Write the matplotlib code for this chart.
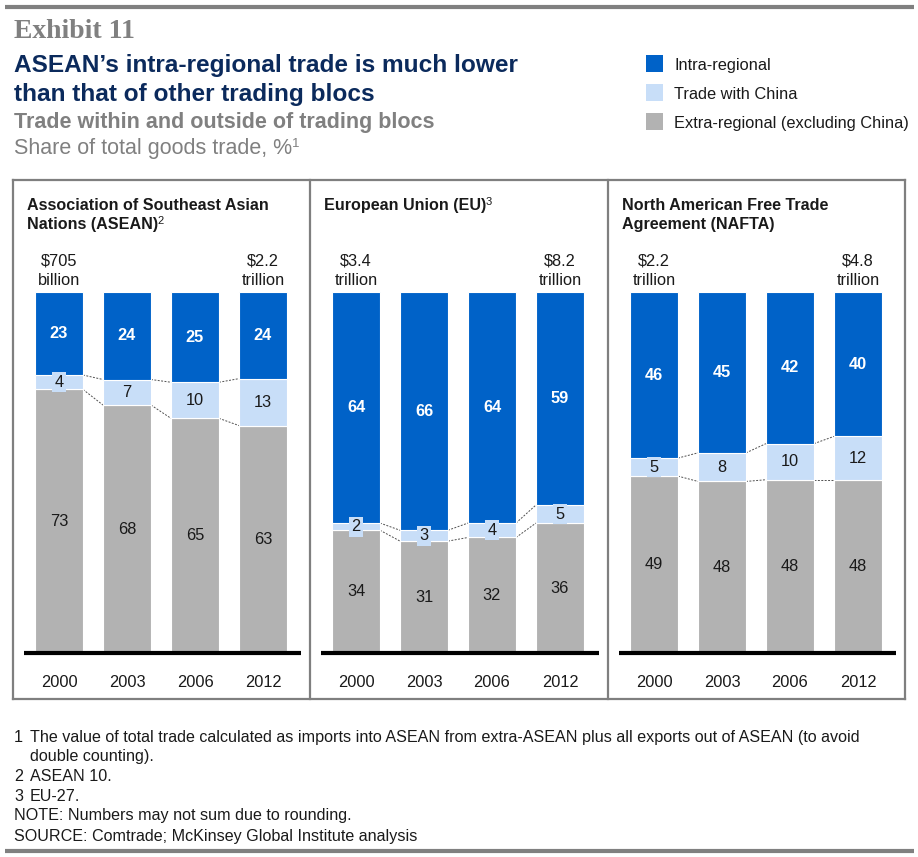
import matplotlib
matplotlib.use('Agg')
import matplotlib.pyplot as plt
from matplotlib.lines import Line2D
from matplotlib.patches import Rectangle
from matplotlib.text import Annotation

# ---------------- data ----------------
years = ['2000', '2003', '2006', '2012']

asean_intra = [23, 24, 25, 24]
asean_china = [4, 7, 10, 13]
asean_extra = [73, 68, 65, 63]

eu_intra = [64, 66, 64, 59]
eu_china = [2, 3, 4, 5]
eu_extra = [34, 31, 32, 36]

nafta_intra = [46, 45, 42, 40]
nafta_china = [5, 8, 10, 12]
nafta_extra = [49, 48, 48, 48]

# (text, superscript) per line
panel_titles = [
    [('Association of Southeast Asian', ''), ('Nations (ASEAN)', '2')],
    [('European Union (EU)', '3')],
    [('North American Free Trade', ''), ('Agreement (NAFTA)', '')],
]
total_first = [['$705', 'billion'], ['$3.4', 'trillion'], ['$2.2', 'trillion']]
total_last = [['$2.2', 'trillion'], ['$8.2', 'trillion'], ['$4.8', 'trillion']]

legend_labels = ['Intra-regional', 'Trade with China', 'Extra-regional (excluding China)']

footnotes = [
    ('1', 'The value of total trade calculated as imports into ASEAN from extra-ASEAN plus all exports out of ASEAN (to avoid'),
    ('', 'double counting).'),
    ('2', 'ASEAN 10.'),
    ('3', 'EU-27.'),
]
note_text = 'NOTE: Numbers may not sum due to rounding.'
source_text = 'SOURCE: Comtrade; McKinsey Global Institute analysis'

# ---------------- style ----------------
C_INTRA = '#0062C8'
C_CHINA = '#C8DEF8'
C_EXTRA = '#B2B2B2'
C_BOX = '#7F7F7F'
C_TXT = '#1A1A1A'
C_NAVY = '#0B2A5C'
C_GREY = '#808080'

plt.rcParams['font.family'] = ['Liberation Sans', 'DejaVu Sans']

W, H, DPI = 918, 857, 100
fig = plt.figure(figsize=(W / DPI, H / DPI), dpi=DPI)
fig.patch.set_facecolor('white')


def fx(x):
    return x / W


def fy(y):
    return 1 - y / H


def ftext(x, y, s, **kw):
    kw.setdefault('va', 'baseline')
    kw.setdefault('ha', 'left')
    return fig.text(fx(x), fy(y), s, **kw)


def sup(t, s, size, color, dx=-0.3, dy=0.8):
    a = Annotation(s, xy=(1, 1), xycoords=t, xytext=(dx, dy), textcoords='offset points',
                   ha='left', va='top', fontsize=size, color=color)
    fig.add_artist(a)


def fline(x0, y0, x1, y1, **kw):
    fig.add_artist(Line2D([fx(x0), fx(x1)], [fy(y0), fy(y1)], transform=fig.transFigure, **kw))


# top / bottom rules
fline(5, 7, 914, 7, color=C_GREY, lw=3, solid_capstyle='butt')
fline(5, 851, 914, 851, color=C_GREY, lw=3, solid_capstyle='butt')

# headings
ftext(14, 38, 'Exhibit 11', family='Liberation Serif', fontweight='bold', fontsize=20, color=C_GREY)
ftext(14, 72, 'ASEAN’s intra-regional trade is much lower', fontweight='bold', fontsize=17.6, color=C_NAVY)
ftext(14, 101, 'than that of other trading blocs', fontweight='bold', fontsize=17.6, color=C_NAVY)
ftext(14, 128, 'Trade within and outside of trading blocs', fontweight='bold', fontsize=15.5, color=C_GREY)
t_share = ftext(14, 154, 'Share of total goods trade, %', fontsize=15.5, color=C_GREY)
sup(t_share, '1', 9.5, C_GREY, dx=-0.3, dy=0.3)

# legend
for lab, col, ytop, base in zip(legend_labels, [C_INTRA, C_CHINA, C_EXTRA], [55, 84, 113], [70, 99, 128]):
    fig.add_artist(Rectangle((fx(646), fy(ytop + 17)), 17 / W, 17 / H, transform=fig.transFigure,
                             facecolor=col, edgecolor='none'))
    ftext(674, base, lab, fontsize=11.8, color=C_TXT)

# panel boxes
panel_lefts = [13, 310, 608]
panel_rights = [310, 608, 905]
BOX_TOP, BOX_BOT = 180, 699
fline(13, BOX_TOP, 905, BOX_TOP, color=C_BOX, lw=1.6)
fline(13, BOX_BOT, 905, BOX_BOT, color=C_BOX, lw=1.6)
for xv in [13, 310, 608, 905]:
    fline(xv, BOX_TOP, xv, BOX_BOT, color=C_BOX, lw=1.6)

BAR_TOP, BAR_BOT = 292, 653
SPACING = 68.0
BAR_W = 48.0 / SPACING
UNIT = (BAR_BOT - BAR_TOP) / 100.0

data = [
    (asean_intra, asean_china, asean_extra),
    (eu_intra, eu_china, eu_extra),
    (nafta_intra, nafta_china, nafta_extra),
]

for p in range(3):
    L, R = panel_lefts[p], panel_rights[p]
    axl, axr = L + 11, R - 9
    axw = axr - axl
    ax = fig.add_axes([fx(axl), fy(BAR_BOT), axw / W, (BAR_BOT - BAR_TOP) / H])
    ax.set_xlim(-35 / SPACING, (axw - 35) / SPACING)
    ax.set_ylim(0, 100)
    ax.axis('off')

    intra, china, extra = data[p]
    tot = [a + b + c for a, b, c in zip(intra, china, extra)]
    ext_n = [e / t * 100 for e, t in zip(extra, tot)]
    chi_n = [c / t * 100 for c, t in zip(china, tot)]
    int_n = [i / t * 100 for i, t in zip(intra, tot)]
    xs = list(range(len(years)))

    ax.bar(xs, ext_n, width=BAR_W, color=C_EXTRA, edgecolor='white', linewidth=0.8, zorder=2)
    ax.bar(xs, chi_n, width=BAR_W, bottom=ext_n, color=C_CHINA, edgecolor='white', linewidth=0.8, zorder=2)
    b2 = [e + c for e, c in zip(ext_n, chi_n)]
    ax.bar(xs, int_n, width=BAR_W, bottom=b2, color=C_INTRA, edgecolor='white', linewidth=0.8, zorder=2)

    # connectors
    for i in range(len(xs) - 1):
        for lev in (ext_n, b2):
            ax.plot([xs[i] + BAR_W / 2, xs[i + 1] - BAR_W / 2], [lev[i], lev[i + 1]],
                    color='#505050', lw=0.7, linestyle=(0, (2, 1.5)), zorder=1, clip_on=False)

    # labels
    for i in xs:
        ax.text(i, ext_n[i] / 2, str(extra[i]), ha='center', va='center', fontsize=11.8, color=C_TXT, zorder=4)
        ax.text(i, ext_n[i] + chi_n[i] / 2, str(china[i]), ha='center', va='center', fontsize=11.8,
                color=C_TXT, zorder=4,
                bbox=dict(boxstyle='square,pad=0.15', facecolor=C_CHINA, edgecolor='none'))
        ax.text(i, b2[i] + int_n[i] / 2, str(intra[i]), ha='center', va='center', fontsize=11.8,
                fontweight='bold', color='white', zorder=4)
        ax.text(i, -(687 - BAR_BOT) / UNIT, years[i], ha='center', va='baseline', fontsize=11.8, color=C_TXT)

    # baseline
    ax.plot(ax.get_xlim(), [0, 0], color='black', lw=3, solid_capstyle='butt', clip_on=False, zorder=5)

    # totals
    for xi, lines in ((0, total_first[p]), (3, total_last[p])):
        ax.text(xi, 100 + (BAR_TOP - 265) / UNIT, lines[0], ha='center', va='baseline', fontsize=11.8, color=C_TXT)
        ax.text(xi, 100 + (BAR_TOP - 285) / UNIT, lines[1], ha='center', va='baseline', fontsize=11.8, color=C_TXT)

    # titles
    for k, (t, s) in enumerate(panel_titles[p]):
        tt = ftext(L + 14, 210 + 19 * k, t, fontsize=11.6, fontweight='bold', color=C_TXT)
        if s:
            sup(tt, s, 8, C_TXT, dx=-0.3, dy=0.8)

# footnotes
fn_base = [742, 761, 781, 801]
for (num, txt), yb in zip(footnotes, fn_base):
    if num:
        ftext(14, yb, num, fontsize=11.6, color=C_TXT)
    ftext(30, yb, txt, fontsize=11.6, color=C_TXT)
ftext(14, 820, note_text, fontsize=11.6, color=C_TXT)
ftext(14, 841, source_text, fontsize=11.6, color=C_TXT)

fig.savefig('out.png', dpi=DPI, facecolor='white')
